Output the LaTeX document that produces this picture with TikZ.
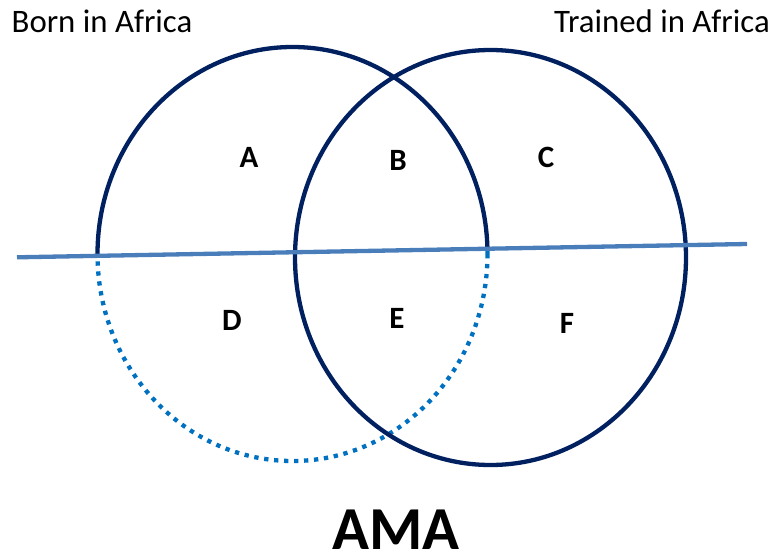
\documentclass[tikz,border=0pt]{standalone}
\usepackage{fontspec}
\setmainfont{Carlito}
\definecolor{navy}{HTML}{002060}
\definecolor{cutblue}{HTML}{4A7EBB}
\definecolor{dotblue}{HTML}{0070C0}
\begin{document}
\begin{tikzpicture}[x=1pt,y=-1pt]
\tikzstyle{title}=[font=\fontsize{32.8}{36}\selectfont]
\tikzstyle{region}=[font=\fontsize{31}{36}\selectfont\bfseries]
\useasboundingbox (0,0) rectangle (775,559);
\coordinate (lleft) at (17,257.3);
\coordinate (lright) at (747,244);
\node[title] at (102,21) (born) {Born in Africa};
\node[title] at (662,21) (trained) {Trained in Africa};
\node[region] at (249,157) (ra) {A};
\node[region] at (398,160) (rb) {B};
\node[region] at (546,157) (rc) {C};
\node[region] at (232,320) (rd) {D};
\node[region] at (397,318) (re) {E};
\node[region] at (567,323) (rf) {F};
\node[font=\fontsize{61}{70}\selectfont\bfseries,inner sep=0pt] at (396,530) (ama) {AMA};
% left circle, solid above the line and dotted below it
\begin{scope}
\clip (0,0) -- (775,0) -- (775,243.5) -- (0,256.8) -- cycle;
\draw[navy,line width=4.3] (292.5,254) ellipse [x radius=195, y radius=207];
\end{scope}
\begin{scope}
\clip (0,559) -- (775,559) -- (775,243.5) -- (0,256.8) -- cycle;
\draw[dotblue,line width=4.3,dash pattern=on 4.3pt off 5.7pt] (292.5,254) ellipse [x radius=195, y radius=207];
\end{scope}
% right circle
\draw[navy,line width=4.3] (490.5,257.5) ellipse [x radius=195.5, y radius=207.5];
\draw[cutblue,line width=4.3] (lleft) -- (lright);
\end{tikzpicture}
\end{document}
